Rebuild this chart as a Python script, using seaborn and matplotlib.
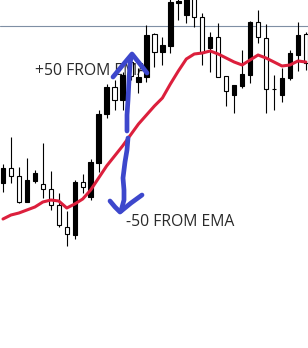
import numpy as np
import pandas as pd
import matplotlib
matplotlib.use("Agg")
import matplotlib.pyplot as plt
import seaborn as sns

# ---- data (price levels) ----
opens = [180, 172, 146, 168, 175, 159, 143, 123, 114, 166, 161, 186, 234, 261, 248, 273,
         272, 271, 313, 296, 303, 346, 347, 353, 331, 295, 311, 271, 257, 263, 274, 326,
         311, 259, 259, 270, 295, 313, 285]
highs = [184, 211, 181, 190, 178, 205, 177, 155, 137, 168, 174, 189, 238, 264, 268, 276,
         292, 280, 323, 315, 311, 353, 353, 356, 356, 335, 316, 325, 272, 263, 298, 327,
         338, 324, 273, 280, 298, 326, 316]
lows = [156, 165, 145, 146, 165, 150, 138, 121, 102, 109, 155, 148, 176, 230, 238, 238,
        268, 255, 266, 281, 283, 295, 328, 325, 321, 283, 276, 271, 242, 235, 260, 265,
        305, 235, 238, 246, 268, 277, 278]
closes = [165, 180, 172, 146, 167, 164, 159, 143, 121, 113, 166, 151, 185, 234, 261, 248,
          286, 266, 271, 314, 296, 302, 345, 333, 353, 331, 300, 311, 272, 253, 262, 273,
          326, 310, 259, 253, 270, 293, 314]
ema = [129, 133, 135, 138, 141, 146, 148, 147, 140, 144, 149, 158, 170, 182, 192, 202,
       213, 224, 233, 242, 250, 264, 277, 289, 294, 295, 297, 294, 290, 286, 283, 288,
       293, 290, 286, 282, 283, 287, 286]
level = 322
labels = ["+50 FROM EMA", "-50 FROM EMA"]

df = pd.DataFrame({"open": opens, "high": highs, "low": lows, "close": closes, "ema": ema})
df["i"] = np.arange(len(df))
df["bull"] = df["close"] >= df["open"]

W, H = 308, 348
fig = plt.figure(figsize=(W / 100, H / 100), dpi=100)
sns.set_style("white")
plt.rcParams["font.family"] = ["Open Sans", "DejaVu Sans"]
ax = fig.add_axes([0, 0, 1, 1])
ax.set_axis_off()

step = 7.97
ax.set_xlim(-3 / step, (W - 3) / step)
ax.set_ylim(0, H)

# horizontal level
ax.axhline(level, color="#7f8fa4", linewidth=0.8, zorder=1)

# text annotations (behind candles)
ax.text(35 / W, 1 - 71 / H, labels[0], transform=ax.transAxes, fontsize=11.3,
        color="#2a2a2a", va="center", ha="left", zorder=2)
ax.text(126 / W, 1 - 222.5 / H, labels[1], transform=ax.transAxes, fontsize=11.3,
        color="#2a2a2a", va="center", ha="left", zorder=2)

# wicks
ax.vlines(df["i"], df["low"], df["high"], color="black", linewidth=0.8, zorder=3)
# bodies
bottoms = np.minimum(df["open"], df["close"])
heights = np.abs(df["close"] - df["open"])
faces = np.where(df["bull"], "white", "black")
ax.bar(df["i"], heights, bottom=bottoms, width=0.55, color=faces,
       edgecolor="black", linewidth=0.8, zorder=4)

# EMA
sns.lineplot(data=df, x="i", y="ema", color="#dc1f3c", linewidth=2.2, ax=ax,
             zorder=5, legend=False)
ax.set_axis_off()

# hand-drawn blue arrows (pixel coordinates of the annotation strokes)
def stroke(pts, **kw):
    pts = np.array(pts, dtype=float)
    ax.plot(pts[:, 0] / W, 1 - pts[:, 1] / H, transform=ax.transAxes,
            color="#3d47cc", linewidth=3.4, solid_capstyle="round",
            solid_joinstyle="round", zorder=6, **kw)

stroke([(127, 131), (127, 115), (128, 100), (129, 80), (130, 65), (131, 57)])
stroke([(113, 77), (122, 66), (132, 54), (140, 64), (147, 73)])
stroke([(128, 138), (127, 150), (125, 162), (123, 178), (124, 190), (124, 200), (121, 211)])
stroke([(110, 201), (115, 207), (120, 212), (131, 203), (142, 195)])

fig.savefig("out.png", dpi=100, facecolor="white")
